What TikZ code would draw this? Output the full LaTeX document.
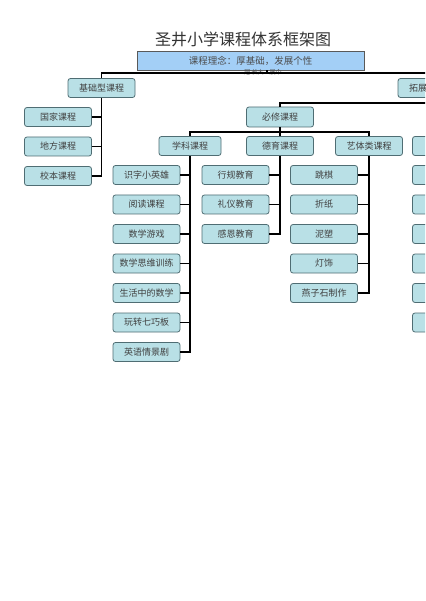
\documentclass[tikz,border=0pt]{standalone}
\usepackage{fontspec}
\setmainfont{Noto Sans CJK SC}
\usetikzlibrary{positioning}

\definecolor{boxfill}{HTML}{B9E0E6}
\definecolor{boxline}{HTML}{4F6D73}
\definecolor{ideafill}{HTML}{A3CFF6}

\tikzset{
  course/.style={draw=boxline, fill=boxfill, rounded corners=2.5pt, line width=0.8pt,
    minimum width=67pt, minimum height=19pt, inner sep=0pt,
    font=\fontsize{9}{10}\selectfont, text=black!75},
  link/.style={line width=1.4pt, black},
}

\begin{document}
\begin{tikzpicture}[x=1pt, y=-1pt, node distance=9.7pt]
    \clip (0,0) rectangle (425,601);
    \fill[white] (0,0) rectangle (425,601);

    \node[font=\fontsize{16}{16}\selectfont, text=black!80] (title) at (243,39) {圣井小学课程体系框架图};
    \node[draw=black!65, fill=ideafill, minimum width=227pt, minimum height=19pt, inner sep=0pt,
      font=\fontsize{9.5}{10}\selectfont, text=black!70] (idea) at (250.5,60.5) {课程理念：厚基础，发展个性};
    \node[font=\fontsize{6}{6}\selectfont, text=black!70] (idea2) at (263,72) {冠\ 长大\quad 展个};

    \node[course] (jichu) at (101.5,88) {基础型课程};
    \node[course] (tuozhan) at (431.5,88) {拓展型课程};
    \node[course] (guojia) at (58,117) {国家课程};
    \node[course, below=of guojia] (difang) {地方课程};
    \node[course, below=of difang] (xiaoben) {校本课程};

    \node[course, minimum height=20pt] (bixiu) at (280,117) {必修课程};
    \node[course, minimum width=62pt] (xueke) at (190,146) {学科课程};
    \node[course] (deyu) at (280,146) {德育课程};
    \node[course] (yiti) at (369,146) {艺体类课程};
    \node[course] (xuanxiu) at (446,146) {};

    % subject courses
    \node[course] (sz) at (146.5,175) {识字小英雄};
    \node[course, below=of sz] (yd) {阅读课程};
    \node[course, below=of yd] (sx) {数学游戏};
    \node[course, below=of sx] (sw) {数学思维训练};
    \node[course, below=of sw] (sh) {生活中的数学};
    \node[course, below=of sh] (qq) {玩转七巧板};
    \node[course, below=of qq] (yy) {英语情景剧};

    % moral courses
    \node[course] (xg) at (235.5,175) {行规教育};
    \node[course, below=of xg] (ly) {礼仪教育};
    \node[course, below=of ly] (ge) {感恩教育};

    % arts courses
    \node[course] (tq) at (324,175) {跳棋};
    \node[course, below=of tq] (zz) {折纸};
    \node[course, below=of zz] (ns) {泥塑};
    \node[course, below=of ns] (ds) {灯饰};
    \node[course, below=of ds] (yz) {燕子石制作};

    % right column, cut off
    \node[course] (r1) at (446,175) {};
    \node[course, below=of r1] (r2) {};
    \node[course, below=of r2] (r3) {};
    \node[course, below=of r3] (r4) {};
    \node[course, below=of r4] (r5) {};
    \node[course, below=of r5] (r6) {};

    % Edges
    \coordinate (top) at (267,73);
    \coordinate (bar) at (280,132);
    \coordinate (upper) at (440,103);
    \draw[link] (jichu.north) |- (top) -| (tuozhan.north);
    \draw[link] (top) -- (idea.south -| top);
    \draw[link] (bixiu.north) |- (upper);
    \draw[link] (bixiu.south) -- (deyu.north);
    \draw[link] (xueke.north) |- (bar) -| (yiti.north);

    \draw[link] (guojia.east) -| (jichu.south);
    \draw[link] (difang.east) -| (jichu.south);
    \draw[link] (xiaoben.east) -| (jichu.south);

    \draw[link] (sz.east) -| (xueke.south);
    \draw[link] (yd.east) -| (xueke.south);
    \draw[link] (sx.east) -| (xueke.south);
    \draw[link] (sw.east) -| (xueke.south);
    \draw[link] (sh.east) -| (xueke.south);
    \draw[link] (qq.east) -| (xueke.south);
    \draw[link] (yy.east) -| (xueke.south);

    \draw[link] (xg.east) -| (deyu.south);
    \draw[link] (ly.east) -| (deyu.south);
    \draw[link] (ge.east) -| (deyu.south);

    \draw[link] (tq.east) -| (yiti.south);
    \draw[link] (zz.east) -| (yiti.south);
    \draw[link] (ns.east) -| (yiti.south);
    \draw[link] (ds.east) -| (yiti.south);
    \draw[link] (yz.east) -| (yiti.south);
\end{tikzpicture}
\end{document}
